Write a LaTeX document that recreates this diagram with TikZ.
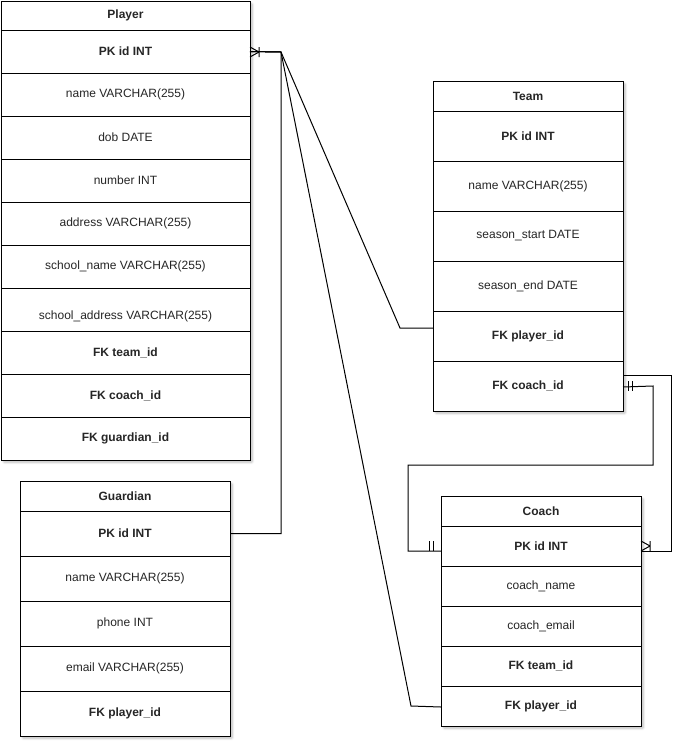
\documentclass[tikz,border=0pt]{standalone}
\usepackage{fontspec}
\setmainfont{Liberation Sans}
\usetikzlibrary{shadows.blur}

\tikzset{
  cell/.style={draw=black, fill=white, line width=1pt, anchor=north west,
    inner sep=0pt, outer sep=0pt, font=\fontsize{12}{14}\selectfont, text=black!85},
  keycell/.style={cell, font=\fontsize{12}{14}\selectfont\bfseries},
  tableshadow/.style={fill=white, blur shadow={shadow xshift=2.5pt, shadow yshift=-2.5pt,
    shadow opacity=25, shadow blur steps=6, shadow blur extra rounding=1pt}},
  rel/.style={draw=black, line width=1pt},
  notation/.style={draw=black, line width=1pt}
}
% \ercell[style]{name}{x}{y}{width}{height}{text}
\newcommand{\ercell}[7][cell]{%
  \node[#1, minimum width=#5pt, minimum height=#6pt] (#2) at (#3,#4) {#7};}

\begin{document}
\begin{tikzpicture}[x=1pt, y=-1pt]
\useasboundingbox (0,0) rectangle (691,748);

% shadows behind the tables
\path[tableshadow] (1,1) rectangle (250,460);
\path[tableshadow] (433,81) rectangle (623,411);
\path[tableshadow] (20,481) rectangle (230,736);
\path[tableshadow] (441,496) rectangle (641,726);

% Player
\ercell[keycell]{ph}{1}{1}{249}{29}{Player}
\ercell[keycell]{ppk}{1}{30}{249}{43}{PK id INT}
\ercell{pname}{1}{73}{249}{43}{name VARCHAR(255)}
\ercell{pdob}{1}{116}{249}{43}{dob DATE}
\ercell{pnum}{1}{159}{249}{43}{number INT}
\ercell{paddr}{1}{202}{249}{43}{address VARCHAR(255)}
\ercell{psname}{1}{245}{249}{43}{school\_name VARCHAR(255)}
\node[cell, minimum width=249pt, minimum height=43pt,
  label={[font=\fontsize{12}{14}\selectfont, text=black!85, yshift=-6.5pt]center:school\_address VARCHAR(255)}]
  (psaddr) at (1,288) {};
\ercell[keycell]{pfkt}{1}{331}{249}{43}{FK team\_id}
\ercell[keycell]{pfkc}{1}{374}{249}{43}{FK coach\_id}
\ercell[keycell]{pfkg}{1}{417}{249}{43}{FK guardian\_id}

% Team
\ercell[keycell]{th}{433}{81}{190}{30}{Team}
\ercell[keycell]{tpk}{433}{111}{190}{50}{PK id INT}
\ercell{tname}{433}{161}{190}{50}{name VARCHAR(255)}
\ercell{tss}{433}{211}{190}{50}{season\_start DATE}
\ercell{tse}{433}{261}{190}{50}{season\_end DATE}
\ercell[keycell]{tfkp}{433}{311}{190}{50}{FK player\_id}
\ercell[keycell]{tfkc}{433}{361}{190}{50}{FK coach\_id}

% Guardian
\ercell[keycell]{gh}{20}{481}{210}{30}{Guardian}
\ercell[keycell]{gpk}{20}{511}{210}{45}{PK id INT}
\ercell{gname}{20}{556}{210}{45}{name VARCHAR(255)}
\ercell{gphone}{20}{601}{210}{45}{phone INT}
\ercell{gemail}{20}{646}{210}{45}{email VARCHAR(255)}
\ercell[keycell]{gfkp}{20}{691}{210}{45}{FK player\_id}

% Coach
\ercell[keycell]{ch}{441}{496}{200}{30}{Coach}
\ercell[keycell]{cpk}{441}{526}{200}{40}{PK id INT}
\ercell{cname}{441}{566}{200}{40}{coach\_name}
\ercell{cmail}{441}{606}{200}{40}{coach\_email}
\ercell[keycell]{cfkt}{441}{646}{200}{40}{FK team\_id}
\ercell[keycell]{cfkp}{441}{686}{200}{40}{FK player\_id}

% relationships
\coordinate (hub) at (281,52);
\draw[rel] (ppk.east) -- (hub) -- (400,328) -- ([yshift=8pt]tfkp.west);
\draw[rel] (ppk.east) -- (hub) |- (gpk.east);
\draw[rel] (ppk.east) -- (hub) -- (411,706) -- ([yshift=-1pt]cfkp.west);
\draw[rel] ([yshift=-1pt]tfkc.east) -- (653,386) -- (653,465) -- (408,465) |- ([yshift=-5pt]cpk.west);
\draw[rel] ([yshift=10.5pt]tfkc.east) -- (671,375.5) |- ([yshift=-5pt]cpk.east);

% crow's foot at Player PK
\draw[notation] (259,52) -- (250,47) (259,52) -- (250,57) (259,47) -- (259,57);
% crow's foot at Coach PK (right)
\draw[notation] (650,546) -- (641,541) (650,546) -- (641,551) (650,541) -- (650,551);
% one-and-only-one bars at Team FK coach_id
\draw[notation] (628,381) -- (628,391) (632,381) -- (632,391);
% one-and-only-one bars at Coach PK (left)
\draw[notation] (429,541) -- (429,551) (433,541) -- (433,551);
\end{tikzpicture}
\end{document}
